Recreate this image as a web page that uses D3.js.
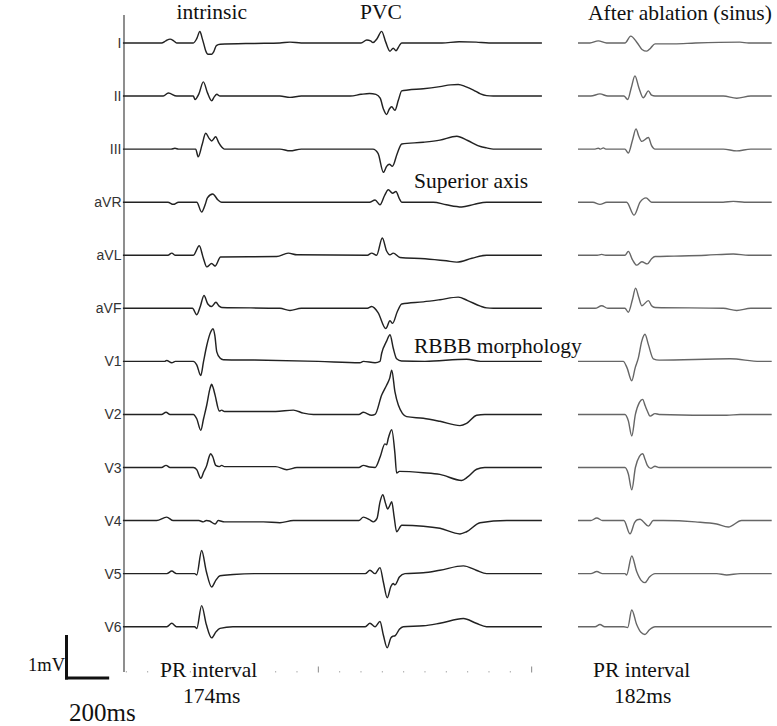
<!DOCTYPE html>
<html>
<head>
<meta charset="utf-8">
<script src="https://cdn.jsdelivr.net/npm/d3@7"></script>
<style>
  body { margin: 0; background: #fff; }
  svg { display: block; }
</style>
</head>
<body>
<div id="chart"></div>
<script>
// Lead names, top to bottom
const leads = ["I", "II", "III", "aVR", "aVL", "aVF", "V1", "V2", "V3", "V4", "V5", "V6"];

// Left panel traces (intrinsic beat + PVC), points are [time ms, mV]
const traceI = [[84,0],[265,0],[285,0.05],[305,0.09],[322,0.05],[336,0],[414,0],[430,0.1],[445,0.27],[455,0.12],[463,-0.02],[472,-0.18],[483,-0.26],[500,-0.26],[510,-0.2],[522,-0.06],[540,-0.03],[700,-0.01],[820,0],[867,0.02],[920,0],[1200,0],[1227,0.07],[1245,0.05],[1256,0.01],[1275,0.1],[1297,0.27],[1316,0.02],[1336,-0.19],[1351,-0.12],[1364,-0.18],[1380,-0.06],[1391,0],[1580,0],[1660,0.03],[1740,0.02],[1800,0],[2048,0]];
const traceII = [[84,0],[273,0],[297,0.07],[336,0],[414,0],[422,-0.08],[440,0.05],[461,0.33],[480,0.08],[500,-0.11],[512,-0.02],[524,0.04],[539,0],[820,0],[867,-0.03],[920,0],[1150,0],[1200,0.04],[1240,0.06],[1270,0.04],[1290,-0.05],[1305,-0.3],[1320,-0.43],[1333,-0.3],[1344,-0.25],[1359,-0.33],[1375,-0.1],[1391,0.12],[1420,0.14],[1492,0.17],[1570,0.22],[1620,0.26],[1656,0.27],[1690,0.22],[1727,0.14],[1760,0.05],[1789,0.01],[1820,0],[2048,0]];
const traceIII = [[84,0],[310,0],[328,0.02],[345,0],[425,0],[437,-0.18],[455,0.1],[472,0.37],[488,0.25],[500,0.19],[519,0.29],[533,0.15],[547,0.05],[560,0],[820,0],[867,-0.04],[920,0],[1256,0],[1280,-0.1],[1305,-0.54],[1320,-0.4],[1333,-0.35],[1347,-0.4],[1370,-0.1],[1391,0.12],[1492,0.16],[1570,0.21],[1649,0.3],[1700,0.2],[1760,0.06],[1789,0.03],[1820,0],[2048,0]];
const traceAVR = [[84,0],[295,0],[320,-0.05],[345,0],[430,0],[453,-0.23],[470,-0.05],[480,0.1],[505,0.19],[530,0.05],[547,0],[1240,0],[1266,0.05],[1289,-0.06],[1310,0.15],[1328,0.29],[1348,0.21],[1364,0.25],[1380,0.08],[1391,0],[1539,0],[1600,-0.06],[1672,-0.11],[1730,-0.05],[1789,0],[2048,0]];
const traceAVL = [[84,0],[295,0],[313,0.05],[330,0],[414,0],[442,0.22],[460,-0.05],[477,-0.27],[500,-0.19],[516,-0.25],[542,-0.04],[805,-0.03],[859,0.05],[900,0.01],[1230,0],[1250,0.05],[1273,0],[1300,0.4],[1320,0.1],[1336,0.01],[1351,0.05],[1383,-0.05],[1500,-0.08],[1600,-0.13],[1649,-0.16],[1720,-0.07],[1789,0],[2048,0]];
const traceAVF = [[84,0],[410,0],[430,-0.15],[447,0.05],[464,0.3],[482,0.1],[500,0.04],[520,0.14],[535,0.05],[547,0.02],[820,0],[867,-0.05],[920,0],[1230,0],[1250,0.04],[1280,-0.1],[1316,-0.47],[1336,-0.29],[1348,-0.35],[1370,-0.08],[1391,0.1],[1492,0.15],[1570,0.2],[1656,0.26],[1700,0.18],[1760,0.05],[1789,0.01],[1820,0],[2048,0]];
const traceV1 = [[84,0],[280,0],[289,0.02],[313,-0.03],[330,0],[414,0],[430,-0.08],[449,-0.33],[462,0],[477,0.37],[497,0.7],[506,0.76],[515,0.6],[524,0.22],[539,0.08],[555,0.04],[700,0.03],[1000,0],[1195,-0.03],[1211,0],[1266,-0.03],[1289,0],[1297,0.19],[1320,0.47],[1336,0.62],[1351,0.31],[1367,0.06],[1390,0.01],[1500,0],[1695,0.05],[1760,0],[2048,0]];
const traceV2 = [[84,0],[265,0],[286,0.05],[305,0],[414,0],[430,-0.1],[449,-0.37],[462,-0.1],[477,0.22],[492,0.6],[500,0.7],[507,0.62],[516,0.45],[536,0.08],[547,0.1],[560,0.07],[800,0.07],[883,0.1],[930,0.03],[977,0],[1190,0],[1211,0.05],[1250,-0.02],[1266,0],[1297,0.45],[1320,0.68],[1335,0.85],[1344,1.03],[1359,0.53],[1375,0.22],[1414,-0.05],[1492,-0.09],[1570,-0.16],[1664,-0.26],[1695,-0.21],[1742,-0.02],[1780,0],[2048,0]];
const traceV3 = [[84,0],[265,0],[286,0.05],[305,0],[414,0],[430,-0.05],[449,-0.25],[463,-0.1],[477,0.05],[488,0.25],[495,0.32],[505,0.25],[519,0.05],[536,0.02],[547,0.05],[560,0.02],[800,0.02],[852,-0.05],[900,0],[1190,0],[1211,0.05],[1240,0.01],[1266,0],[1290,0.25],[1312,0.55],[1320,0.53],[1328,0.68],[1344,0.88],[1359,0.33],[1367,-0.13],[1380,-0.09],[1492,-0.12],[1570,-0.16],[1672,-0.3],[1700,-0.22],[1742,-0.04],[1780,0],[2048,0]];
const traceV4 = [[84,0],[242,0],[289,0.08],[320,0],[440,0],[461,-0.03],[475,0],[490,-0.01],[516,-0.08],[531,0],[560,-0.03],[742,-0.03],[820,-0.05],[883,0],[1190,0],[1211,0.08],[1240,0.02],[1258,-0.03],[1275,0.05],[1289,0.43],[1302,0.6],[1315,0.4],[1325,0.27],[1335,0.35],[1344,0.44],[1355,0.1],[1367,-0.26],[1391,-0.11],[1492,-0.13],[1570,-0.18],[1664,-0.31],[1695,-0.26],[1758,-0.05],[1883,0],[2048,0]];
const traceV5 = [[84,0],[290,0],[313,0.06],[335,0],[420,0],[430,-0.03],[453,0.54],[475,0.05],[500,-0.31],[520,-0.15],[539,-0.05],[601,-0.02],[700,0],[1220,0],[1242,0.08],[1266,0],[1289,0.14],[1305,-0.2],[1323,-0.56],[1340,-0.3],[1351,-0.23],[1359,-0.26],[1380,-0.08],[1406,0],[1492,0.02],[1570,0.08],[1680,0.18],[1740,0.08],[1789,0],[2048,0]];
const traceV6 = [[84,0],[290,0],[313,0.08],[335,0],[420,0],[430,-0.04],[453,0.49],[475,0.05],[500,-0.26],[520,-0.12],[539,-0.04],[600,0],[1220,0],[1242,0.08],[1266,0],[1289,0.12],[1305,-0.2],[1323,-0.49],[1340,-0.26],[1351,-0.22],[1360,-0.21],[1380,-0.06],[1398,0],[1492,0.02],[1570,0.08],[1680,0.19],[1740,0.08],[1789,0],[2048,0]];

// Right panel traces (after ablation, sinus), [time ms, mV]
const sinusI = [[0,0],[56,0],[95,0.05],[134,0],[220,0],[247,0.16],[278,0],[300,-0.15],[322,-0.19],[340,-0.12],[361,-0.02],[450,-0.02],[550,0],[759,0.02],[800,0],[908,0]];
const sinusII = [[0,0],[60,0],[103,0.05],[140,0],[215,0],[233,-0.08],[250,0.2],[267,0.47],[285,0.2],[306,-0.04],[330,0.12],[345,0.02],[361,0],[681,0],[744,-0.05],[810,0],[908,0]];
const sinusIII = [[0,0],[80,0],[95,0.02],[105,0],[119,0.03],[130,0],[220,0],[236,-0.09],[255,0.2],[272,0.47],[285,0.3],[299,0.18],[330,0.27],[345,0.08],[361,0],[681,0],[744,-0.04],[810,0],[908,0]];
const sinusAVR = [[0,0],[70,0],[103,-0.05],[135,0],[228,0],[263,-0.3],[291,0],[319,0.1],[345,0],[680,0],[728,0.02],[780,0],[908,0]];
const sinusAVL = [[0,0],[90,0],[111,0.02],[130,0],[220,0],[236,0.09],[255,-0.1],[275,-0.23],[299,-0.15],[325,-0.2],[345,-0.08],[361,-0.03],[450,-0.02],[600,0],[728,0.03],[800,0],[908,0]];
const sinusAVF = [[0,0],[80,0],[111,0.06],[140,0],[220,0],[236,-0.09],[255,0.2],[270,0.47],[285,0.25],[299,0.06],[330,0.18],[345,0.06],[361,0.02],[681,0],[744,-0.05],[810,0],[908,0]];
const sinusV1 = [[0,0],[212,0],[230,-0.15],[252,-0.45],[268,-0.15],[283,0.08],[299,0.47],[314,0.63],[330,0.39],[353,0.06],[380,0.03],[713,0.06],[853,0],[908,0]];
const sinusV2 = [[0,0],[220,0],[236,-0.15],[252,-0.5],[269,0],[288,0.28],[303,0.35],[315,0.2],[325,0.08],[338,-0.04],[361,0.02],[380,0],[697,-0.02],[760,0],[908,0]];
const sinusV3 = [[0,0],[220,0],[236,-0.15],[252,-0.52],[269,0],[288,0.26],[303,0.32],[315,0.18],[325,0.05],[341,-0.02],[361,0.03],[380,0],[908,0]];
const sinusV4 = [[0,0],[60,0],[88,0.06],[115,0],[215,0],[244,-0.31],[265,-0.05],[278,0.02],[291,0.03],[305,-0.02],[330,-0.13],[353,0],[400,0],[550,-0.03],[650,-0.08],[705,-0.15],[767,0],[908,0]];
const sinusV5 = [[0,0],[60,0],[88,0.05],[115,0],[220,0],[228,-0.03],[252,0.41],[275,0.05],[295,-0.15],[314,-0.21],[335,-0.08],[361,0],[650,0],[697,-0.03],[760,0],[908,0]];
const sinusV6 = [[0,0],[80,0],[103,0.05],[125,0],[215,0],[233,-0.02],[252,0.39],[275,0.05],[295,-0.13],[314,-0.18],[335,-0.07],[361,0],[908,0]];

// time ticks along the bottom (ms), bigger tick every second
const tickTimes = [100,200,300,400,500,600,700,800,900,1000,1100,1200,1300,1400,1500,1600,1700,1800,1900,2000];
const majorTicks = [1000, 2000];

const leftTraces = [traceI, traceII, traceIII, traceAVR, traceAVL, traceAVF, traceV1, traceV2, traceV3, traceV4, traceV5, traceV6];
const rightTraces = [sinusI, sinusII, sinusIII, sinusAVR, sinusAVL, sinusAVF, sinusV1, sinusV2, sinusV3, sinusV4, sinusV5, sinusV6];

const width = 777, height = 726;
const pxPerMs = 0.21333;   // 100 ms = ~21 px
const pxPerMv = 43;        // 1 mV = 43 px

const svg = d3.select("#chart")
    .append("svg")
    .attr("width", width)
    .attr("height", height);

// Scales
const xLeft = d3.scaleLinear().domain([0, 2000]).range([105, 105 + 2000 * pxPerMs]);
const xRight = d3.scaleLinear().domain([0, 908]).range([578, 578 + 908 * pxPerMs]);
const yLead = d3.scalePoint().domain(leads).range([43, 626.7]);
const amp = d3.scaleLinear().domain([0, 1]).range([0, -pxPerMv]);

const lineLeft = d3.line().x(d => xLeft(d[0])).y(d => amp(d[1])).curve(d3.curveMonotoneX);
const lineRight = d3.line().x(d => xRight(d[0])).y(d => amp(d[1])).curve(d3.curveMonotoneX);

// Left vertical axis line
svg.append("line")
    .attr("x1", 124).attr("x2", 124)
    .attr("y1", 15).attr("y2", 672)
    .attr("stroke", "#444")
    .attr("stroke-width", 1.2);

// Time ticks at the bottom
svg.append("g").selectAll("line")
    .data(tickTimes)
    .enter()
    .append("line")
    .attr("x1", d => xLeft(d)).attr("x2", d => xLeft(d))
    .attr("y1", d => majorTicks.includes(d) ? 666.5 : 671)
    .attr("y2", 672.5)
    .attr("stroke", d => majorTicks.includes(d) ? "#888" : "#aaa")
    .attr("stroke-width", 1);

// One group per lead
const rows = svg.selectAll(".lead")
    .data(leads)
    .enter()
    .append("g")
    .attr("class", "lead")
    .attr("transform", d => `translate(0, ${yLead(d)})`);

rows.append("path")
    .attr("d", (d, i) => lineLeft(leftTraces[i]))
    .attr("fill", "none")
    .attr("stroke", "#222")
    .attr("stroke-width", 1.45)
    .attr("stroke-linejoin", "round");

rows.append("path")
    .attr("d", (d, i) => lineRight(rightTraces[i]))
    .attr("fill", "none")
    .attr("stroke", "#666")
    .attr("stroke-width", 1.4)
    .attr("stroke-linejoin", "round");

rows.append("text")
    .attr("x", 121.5)
    .attr("y", 5)
    .attr("text-anchor", "end")
    .style("font-family", "'Liberation Sans', Arial, sans-serif")
    .style("font-size", "14px")
    .attr("fill", "#333")
    .text(d => d);

// Annotations (serif text)
const notes = [
    {text: "intrinsic", x: 176.5, y: 19},
    {text: "PVC", x: 360, y: 19},
    {text: "After ablation (sinus)", x: 588, y: 20},
    {text: "Superior axis", x: 414, y: 188},
    {text: "RBBB morphology", x: 414, y: 353},
    {text: "PR interval", x: 160, y: 677},
    {text: "174ms", x: 183, y: 703},
    {text: "PR interval", x: 593, y: 677},
    {text: "182ms", x: 614, y: 703}
];
svg.selectAll(".note")
    .data(notes)
    .enter()
    .append("text")
    .attr("class", "note")
    .attr("x", d => d.x)
    .attr("y", d => d.y)
    .style("font-family", "'Liberation Serif', 'Times New Roman', serif")
    .style("font-size", "21.5px")
    .attr("fill", "#111")
    .text(d => d.text);

// Calibration bar: 1 mV by 200 ms
const barX = 66.5, barY = 678;
const bar = svg.append("g").attr("stroke", "#111").attr("stroke-width", 3).attr("fill", "none");
bar.append("line")
    .attr("x1", barX).attr("x2", barX)
    .attr("y1", barY + amp(0) + 1.5).attr("y2", barY + amp(1));
bar.append("line")
    .attr("x1", barX - 1.5).attr("x2", barX + xLeft(200) - xLeft(0))
    .attr("y1", barY).attr("y2", barY);

svg.append("text")
    .attr("x", 28).attr("y", 671)
    .style("font-family", "'Liberation Serif', 'Times New Roman', serif")
    .style("font-size", "18.5px")
    .attr("fill", "#111")
    .text("1mV");

svg.append("text")
    .attr("x", 69).attr("y", 721)
    .style("font-family", "'Liberation Serif', 'Times New Roman', serif")
    .style("font-size", "25px")
    .attr("fill", "#111")
    .text("200ms");
</script>
</body>
</html>
